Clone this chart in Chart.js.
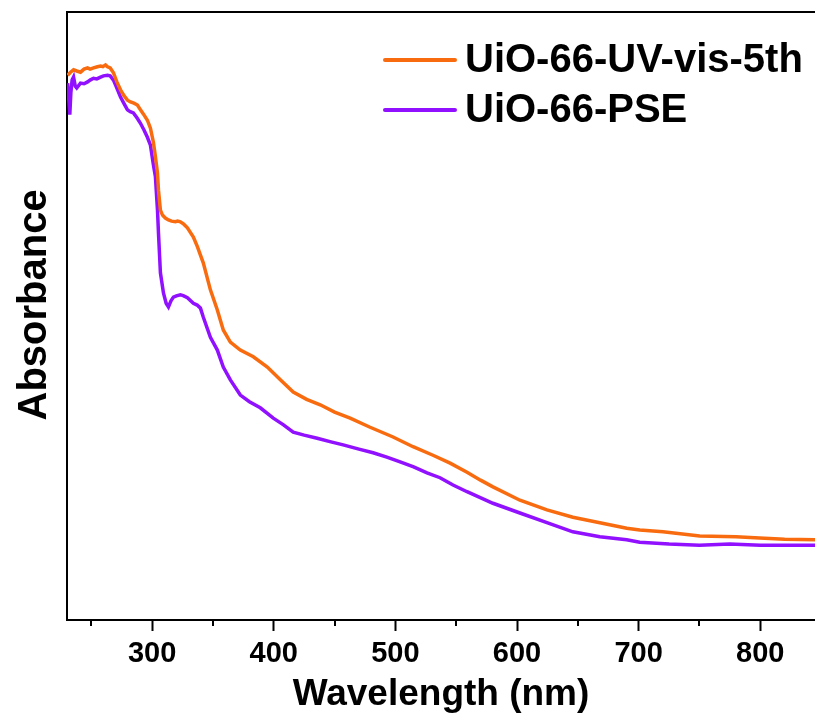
<!DOCTYPE html>
<html>
<head>
<meta charset="utf-8">
<script src="https://cdn.jsdelivr.net/npm/chart.js@4.4.0/dist/chart.umd.min.js"></script>
<style>
  body { margin: 0; background: #fff; }
  canvas { display: block; }
</style>
</head>
<body>
<canvas id="myChart" width="815" height="726"></canvas>
<script>
// series labels + colours
const seriesNames = ["UiO-66-UV-vis-5th", "UiO-66-PSE"];
const seriesColors = ["#F96B0F", "#9010FF"];

// x tick labels (nm) and minor tick spots
const majorTicks = [300, 400, 500, 600, 700, 800];
const minorTicks = [250, 350, 450, 550, 650, 750];

// UiO-66-UV-vis-5th
const orangeNm = [230.5, 232.9, 235.4, 238, 241.1, 244, 246.9, 249, 251.8, 255, 257.6, 259.5, 261.7, 263.3, 265.5,
  268.2, 271, 274, 277, 279.7, 282.2, 285, 287.9, 290.4, 292.9, 296.1, 298.6, 301.1, 302.7, 304.4, 305.2,
  306.8, 308.5, 310.9, 313.4, 316, 319.1, 321, 323.2, 326, 329, 333.9, 337.2, 342.1, 347.9, 353.6, 358.5,
  364.3, 372.5, 383.2, 394.7, 405.4, 416, 427, 438.2, 450, 462.8, 479.2, 498.1, 514.5, 530.9, 545, 558.9,
  570, 580.2, 602.4, 624.6, 645.9, 668.1, 690.2, 700.9, 720, 750.2, 780, 799.4, 820, 845];
const orangeAbs = [0.896, 0.901, 0.905, 0.903, 0.901, 0.906, 0.908, 0.906, 0.908, 0.910, 0.911, 0.910, 0.913, 0.910, 0.908,
  0.900, 0.885, 0.872, 0.862, 0.855, 0.852, 0.850, 0.847, 0.839, 0.832, 0.822, 0.809, 0.785, 0.762, 0.735, 0.707,
  0.674, 0.666, 0.661, 0.658, 0.656, 0.655, 0.656, 0.655, 0.651, 0.645, 0.630, 0.614, 0.587, 0.543, 0.510, 0.477,
  0.457, 0.444, 0.433, 0.416, 0.395, 0.375, 0.363, 0.354, 0.342, 0.332, 0.317, 0.301, 0.285, 0.271, 0.258, 0.243,
  0.230, 0.219, 0.197, 0.181, 0.169, 0.160, 0.151, 0.148, 0.145, 0.138, 0.137, 0.135, 0.133, 0.132];

// UiO-66-PSE
const purpleNm = [230.5, 231.5, 232.3, 233.2, 234.2, 235.4, 236.8, 238, 241.1, 244, 246.9, 249, 251.8, 254.5, 257.6,
  260, 263.3, 265.5, 268.2, 271, 274, 277, 279.7, 282, 284.6, 287.5, 290.4, 293.3, 296.1, 298.6, 301.1,
  302.7, 304.4, 305.2, 306.8, 309.3, 311.5, 313.4, 315.5, 317.5, 320, 323.2, 326, 329, 333.9, 337, 339.7,
  342.1, 347.9, 353.6, 358.5, 364.3, 372.5, 380, 388.9, 399.6, 408, 416, 425, 435.7, 447, 457.1, 470,
  481.7, 493, 503.9, 515, 526, 536.7, 547.4, 558.9, 580.2, 602.4, 624.6, 645.9, 668.1, 690.2, 700.9, 725,
  750, 775, 800, 825, 845];
const purpleAbs = [0.883, 0.855, 0.831, 0.868, 0.888, 0.893, 0.878, 0.875, 0.883, 0.882, 0.885, 0.888, 0.891, 0.890, 0.893,
  0.895, 0.896, 0.895, 0.888, 0.875, 0.860, 0.849, 0.839, 0.836, 0.834, 0.826, 0.817, 0.806, 0.794, 0.781, 0.748,
  0.729, 0.674, 0.637, 0.571, 0.538, 0.521, 0.515, 0.525, 0.531, 0.533, 0.535, 0.533, 0.530, 0.521, 0.518, 0.513,
  0.498, 0.465, 0.444, 0.416, 0.395, 0.370, 0.359, 0.349, 0.332, 0.321, 0.309, 0.304, 0.299, 0.293, 0.288, 0.281,
  0.275, 0.268, 0.260, 0.252, 0.242, 0.234, 0.222, 0.211, 0.192, 0.176, 0.160, 0.145, 0.137, 0.132, 0.128, 0.125,
  0.123, 0.125, 0.123, 0.123, 0.123];

const FONT = "'Liberation Sans', Arial, sans-serif";

function toPoints(xs, ys) {
    return xs.map((x, i) => ({ x: x, y: ys[i] }));
}

// minor ticks on the x axis + legend in the upper right
const extras = {
    id: 'extras',
    afterDraw(chart) {
        const ctx = chart.ctx;
        const xs = chart.scales.x;
        const bottom = chart.chartArea.bottom;
        ctx.save();
        ctx.strokeStyle = '#000';
        ctx.lineWidth = 2;
        for (let i = 0; i < minorTicks.length; i++) {
            let px = Math.round(xs.getPixelForValue(minorTicks[i]));
            ctx.beginPath();
            ctx.moveTo(px, bottom);
            ctx.lineTo(px, bottom + 6);
            ctx.stroke();
        }

        ctx.font = "bold 40px " + FONT;
        ctx.textBaseline = 'middle';
        ctx.fillStyle = '#000';
        ctx.lineCap = 'round';
        let rows = [60, 110];
        chart.data.datasets.forEach((ds, i) => {
            ctx.strokeStyle = ds.borderColor;
            ctx.lineWidth = 4;
            ctx.beginPath();
            ctx.moveTo(385, rows[i]);
            ctx.lineTo(455, rows[i]);
            ctx.stroke();
            ctx.fillText(ds.label, 465, rows[i] + 1);
        });
        ctx.restore();
    }
};

const ctx = document.getElementById('myChart').getContext('2d');
const chart = new Chart(ctx, {
    type: 'line',
    data: {
        datasets: [{
            label: seriesNames[0],
            data: toPoints(orangeNm, orangeAbs),
            borderColor: seriesColors[0],
            borderWidth: 3.5,
            pointRadius: 0,
            tension: 0
        }, {
            label: seriesNames[1],
            data: toPoints(purpleNm, purpleAbs),
            borderColor: seriesColors[1],
            borderWidth: 3.5,
            pointRadius: 0,
            tension: 0
        }]
    },
    options: {
        responsive: false,
        animation: false,
        layout: { padding: 0 },
        plugins: {
            legend: { display: false },
            tooltip: { enabled: false }
        },
        scales: {
            x: {
                type: 'linear',
                position: 'bottom',
                min: 230,
                max: 845,
                afterBuildTicks: (scale) => {
                    scale.ticks = majorTicks.map(v => ({ value: v }));
                },
                afterFit: (scale) => { scale.height = 106; },
                grid: {
                    display: true,
                    drawOnChartArea: false,
                    drawTicks: true,
                    tickLength: 11,
                    tickColor: '#000',
                    tickWidth: 2
                },
                border: { display: true, color: '#000', width: 2 },
                ticks: {
                    color: '#000',
                    padding: 6,
                    maxRotation: 0,
                    font: { family: FONT, size: 29, weight: 'bold' }
                },
                title: {
                    display: true,
                    text: 'Wavelength (nm)',
                    color: '#000',
                    padding: { top: 0, bottom: 9 },
                    font: { family: FONT, size: 37, weight: 'bold' }
                }
            },
            xTop: {
                type: 'linear',
                position: 'top',
                afterFit: (scale) => { scale.height = 12; },
                grid: { display: false },
                ticks: { display: false },
                border: { display: true, color: '#000', width: 2 }
            },
            y: {
                type: 'linear',
                min: 0,
                max: 1,
                afterFit: (scale) => { scale.width = 67; },
                grid: { display: false },
                ticks: { display: false },
                border: { display: true, color: '#000', width: 2 },
                title: {
                    display: true,
                    // leading spaces nudge the word up a little, as in the original
                    text: '  Absorbance',
                    color: '#000',
                    padding: { top: 11, bottom: 0 },
                    font: { family: FONT, size: 40, weight: 'bold' }
                }
            }
        }
    },
    plugins: [extras]
});
</script>
</body>
</html>
